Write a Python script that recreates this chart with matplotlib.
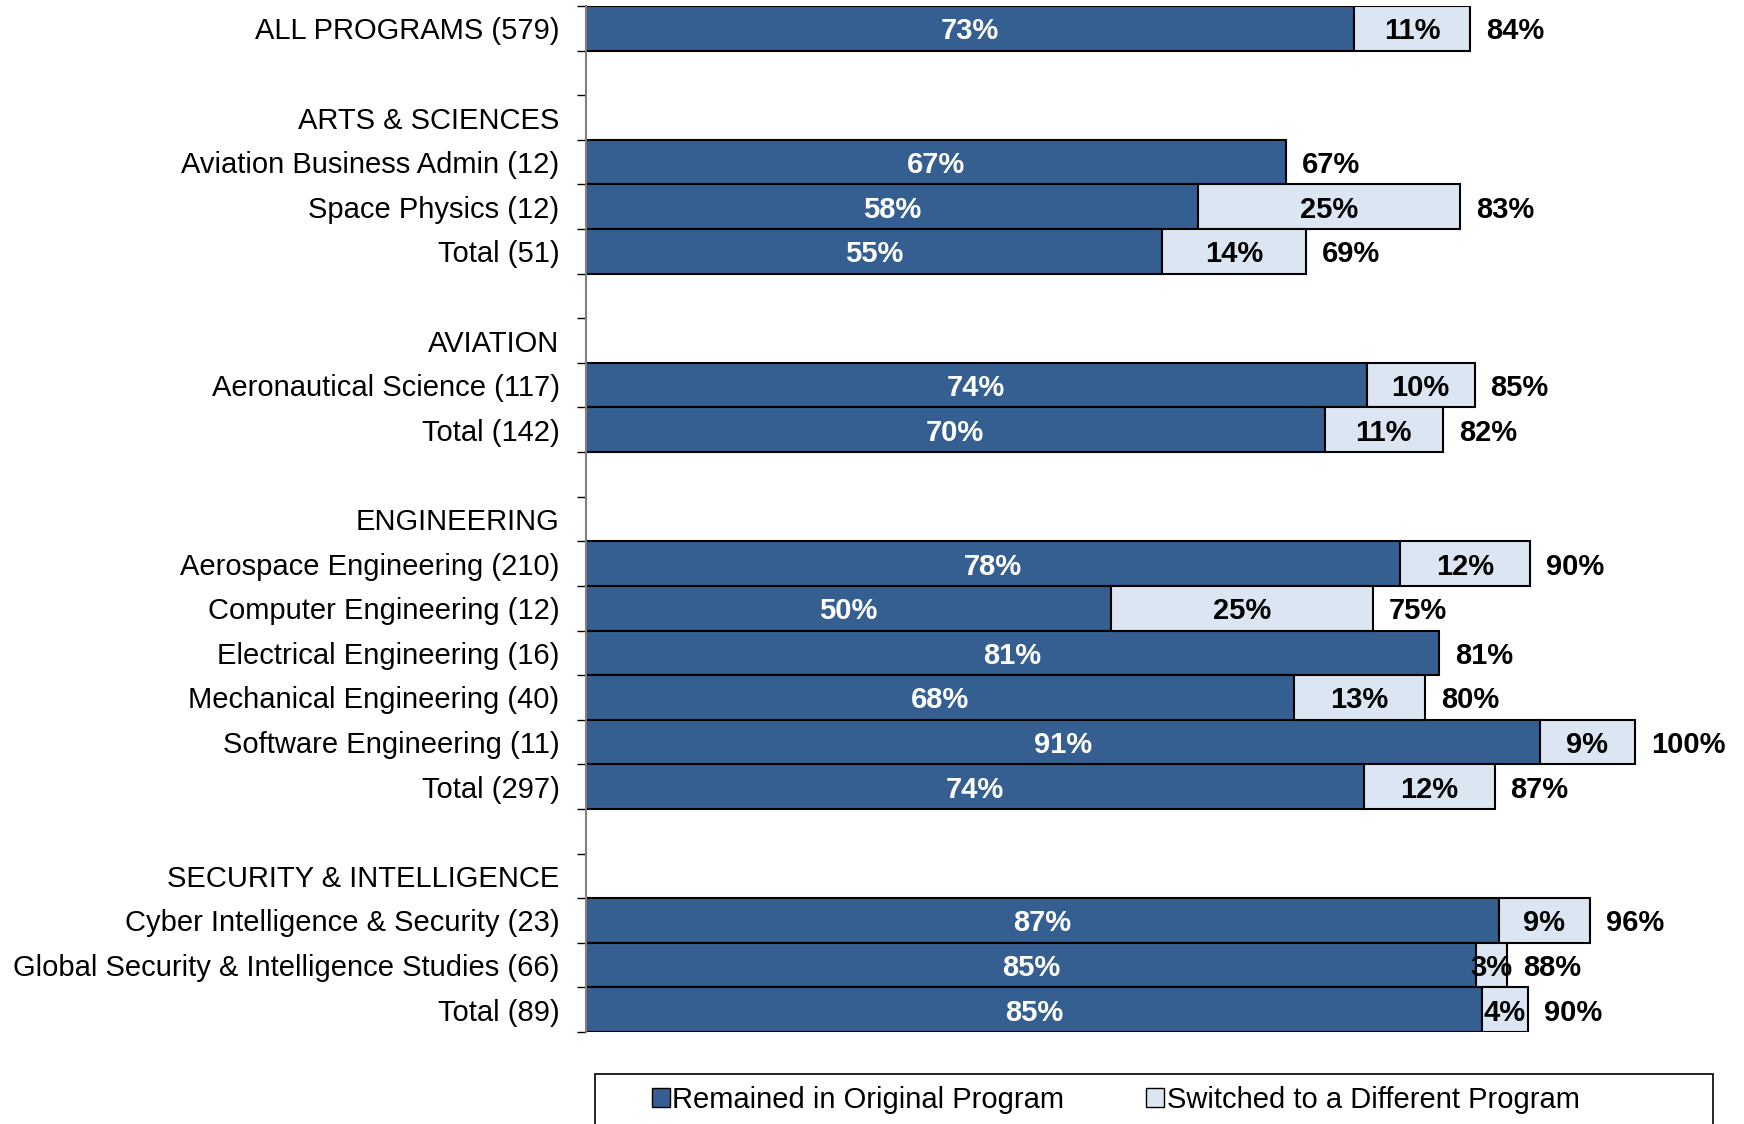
import numpy as np
import matplotlib
matplotlib.use("Agg")
import matplotlib.pyplot as plt
from matplotlib.patches import Patch, Rectangle

plt.rcParams["font.family"] = ["Liberation Sans", "DejaVu Sans"]

ROWS = [
    "ALL PROGRAMS (579)", "",
    "ARTS & SCIENCES", "Aviation Business Admin (12)", "Space Physics (12)", "Total (51)", "",
    "AVIATION", "Aeronautical Science (117)", "Total (142)", "",
    "ENGINEERING", "Aerospace Engineering (210)", "Computer Engineering (12)",
    "Electrical Engineering (16)", "Mechanical Engineering (40)",
    "Software Engineering (11)", "Total (297)", "",
    "SECURITY & INTELLIGENCE", "Cyber Intelligence & Security (23)",
    "Global Security & Intelligence Studies (66)", "Total (89)",
]
nan = np.nan
REMAINED = [73.2, nan, nan, 66.7, 58.3, 54.9, nan, nan, 74.4, 70.4, nan, nan,
            77.6, 50.0, 81.3, 67.5, 90.9, 74.2, nan, nan, 87.0, 84.8, 85.4]
SWITCHED = [11.1, nan, nan, 0.0, 25.0, 13.7, nan, nan, 10.3, 11.3, nan, nan,
            12.4, 25.0, 0.0, 12.5, 9.1, 12.4, nan, nan, 8.7, 3.0, 4.4]

DARK = "#365F91"
LIGHT = "#DCE6F2"
FS = 21


def pct(v):
    return f"{int(v + 0.5)}%"


fig = plt.figure(figsize=(17.44, 11.24), dpi=100)
ax = fig.add_axes([586 / 1744, 1 - 1032 / 1124, 1154 / 1744, 1026 / 1124])

y = np.arange(len(ROWS))
rem = np.array(REMAINED)
sw = np.array(SWITCHED)
has = ~np.isnan(rem)

ax.barh(y[has], rem[has], height=1.0, color=DARK, edgecolor="black", lw=1.5)
sw_mask = has & (np.nan_to_num(sw) > 0)
ax.barh(y[sw_mask], sw[sw_mask], left=rem[sw_mask], height=1.0,
        color=LIGHT, edgecolor="black", lw=1.5)

for i in y[has]:
    r, s = rem[i], sw[i]
    ax.text(r / 2, i, pct(r), ha="center", va="center_baseline", color="white",
            fontsize=FS, fontweight="bold")
    if s > 0:
        ax.text(r + s / 2, i, pct(s), ha="center", va="center_baseline", color="black",
                fontsize=FS, fontweight="bold")
    ax.text(r + s + 1.5, i, pct(r + s), ha="left", va="center_baseline", color="black",
            fontsize=FS, fontweight="bold")

ax.set_xlim(0, 110)
ax.set_ylim(len(ROWS) - 0.5, -0.5)
ax.set_yticks(y)
ax.set_yticklabels(ROWS, fontsize=FS)
ax.set_yticks(np.arange(len(ROWS) + 1) - 0.5, minor=True)
ax.tick_params(axis="y", which="major", length=0, pad=19)
ax.tick_params(axis="y", which="minor", length=6.5, width=1, color="black")
ax.set_xticks([])
for side in ["top", "right", "bottom"]:
    ax.spines[side].set_visible(False)
ax.spines["left"].set_color("#808080")
ax.spines["left"].set_linewidth(1.5)

# legend frame runs off the bottom edge like the original
fig.patches.append(Rectangle((595 / 1744, -0.02), 1118 / 1744, 0.02 + 50 / 1124,
                             transform=fig.transFigure, facecolor="white",
                             edgecolor="black", lw=1.2))
handles = [Patch(facecolor=DARK, edgecolor="black", label="Remained in Original Program"),
           Patch(facecolor=LIGHT, edgecolor="black", label="Switched to a Different Program")]
fig.legend(handles=handles, loc="center left", ncol=2, frameon=False,
           bbox_to_anchor=(652 / 1744, 1 - 1100 / 1124), fontsize=FS,
           handlelength=0.6, handleheight=0.6, handletextpad=0.1,
           columnspacing=2.8, borderpad=0, borderaxespad=0)

fig.savefig("out.png", dpi=100)
